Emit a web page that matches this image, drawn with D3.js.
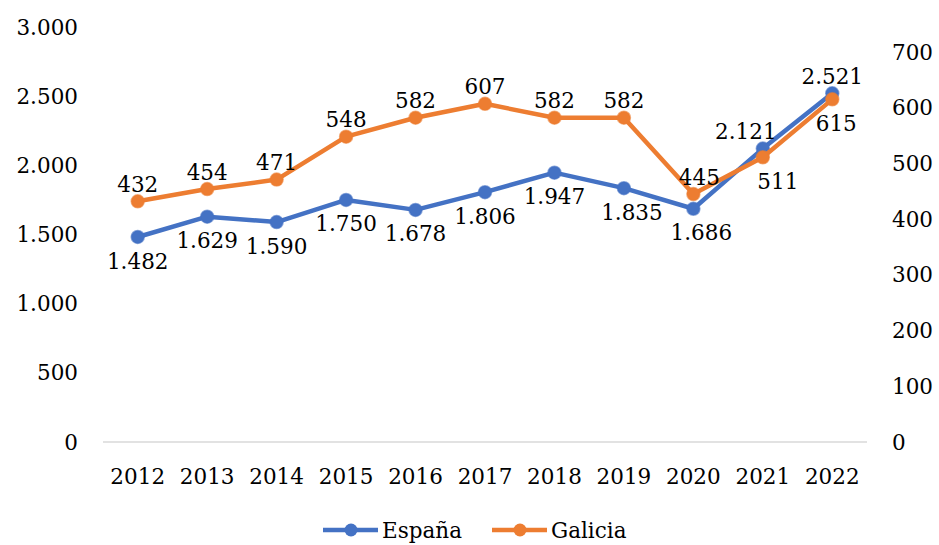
<!DOCTYPE html>
<html>
<head>
<meta charset="utf-8">
<script src="https://cdn.jsdelivr.net/npm/d3@7"></script>
<style>
  body { margin: 0; background: #fff; }
  svg text { font-family: "DejaVu Serif", "Liberation Serif", serif; fill: #000; }
</style>
</head>
<body>
<div id="chart"></div>
<script>
const years = ['2012', '2013', '2014', '2015', '2016', '2017', '2018', '2019', '2020', '2021', '2022'];
const espana = [1482, 1629, 1590, 1750, 1678, 1806, 1947, 1835, 1686, 2121, 2521];
const galicia = [432, 454, 471, 548, 582, 607, 582, 582, 445, 511, 615];
const leftTicks = [0, 500, 1000, 1500, 2000, 2500, 3000];
const rightTicks = [0, 100, 200, 300, 400, 500, 600, 700];

// label placement: 'a' above, 'b' below
const espanaPos = ['b', 'b', 'b', 'b', 'b', 'b', 'b', 'b', 'b', 'a', 'a'];
const galiciaPos = ['a', 'a', 'a', 'a', 'a', 'a', 'a', 'a', 'a', 'b', 'b'];

const width = 939, height = 545;
const plotL = 103, plotR = 867, plotT = 27, plotB = 442;
const fs = '21.5px';

const fmt = v => d3.format(',')(v).replace(/,/g, '.');

const svg = d3.select('#chart').append('svg')
  .attr('width', width)
  .attr('height', height);

const x = d3.scaleBand().domain(years).range([plotL, plotR]);
const yL = d3.scaleLinear().domain([0, 3000]).range([plotB, plotT]);
const yR = d3.scaleLinear().domain([0, 700]).range([plotB, 52]);

// baseline
svg.append('line')
  .attr('x1', plotL).attr('x2', plotR)
  .attr('y1', plotB).attr('y2', plotB)
  .attr('stroke', '#d9d9d9').attr('stroke-width', 1.5);

// left axis labels
svg.selectAll('.lt').data(leftTicks).enter().append('text')
  .attr('x', 78).attr('y', d => yL(d))
  .attr('dy', '0.35em')
  .attr('text-anchor', 'end')
  .attr('font-size', fs)
  .text(fmt);

// right axis labels
svg.selectAll('.rt').data(rightTicks).enter().append('text')
  .attr('x', 892).attr('y', d => yR(d))
  .attr('dy', '0.35em')
  .attr('font-size', fs)
  .text(fmt);

// x labels
svg.selectAll('.xt').data(years).enter().append('text')
  .attr('x', d => x(d) + x.bandwidth() / 2)
  .attr('y', 476)
  .attr('dy', '0.35em')
  .attr('text-anchor', 'middle')
  .attr('font-size', fs)
  .text(d => d);

const cx = d => x(d) + x.bandwidth() / 2;

function drawSeries(values, yScale, color, pos, dxs) {
  const pts = values.map((v, i) => ({ year: years[i], v, p: pos[i], dx: dxs[i] || 0 }));
  const line = d3.line().x(d => cx(d.year)).y(d => yScale(d.v));
  svg.append('path')
    .datum(pts)
    .attr('d', line)
    .attr('fill', 'none')
    .attr('stroke', color)
    .attr('stroke-width', 4.5)
    .attr('stroke-linejoin', 'round');
  svg.selectAll(null).data(pts).enter().append('circle')
    .attr('cx', d => cx(d.year))
    .attr('cy', d => yScale(d.v))
    .attr('r', 6.5)
    .attr('fill', color)
    .attr('stroke', color)
    .attr('stroke-opacity', 0.6)
    .attr('stroke-width', 1.5);
  svg.selectAll(null).data(pts).enter().append('text')
    .attr('x', d => cx(d.year) + d.dx)
    .attr('y', d => yScale(d.v) + (d.p === 'a' ? -17 : 24))
    .attr('dy', '0.35em')
    .attr('text-anchor', 'middle')
    .attr('font-size', fs)
    .text(d => fmt(d.v));
}

drawSeries(espana, yL, '#4472c4', espanaPos, [0, 0, 0, 0, 0, 0, 0, 8, 8, -17, 0]);
drawSeries(galicia, yR, '#ed7d31', galiciaPos, [0, 0, 0, 0, 0, 0, 0, 0, 6, 15, 4]);

// legend
const legend = [
  { name: 'España', color: '#4472c4', x: 323 },
  { name: 'Galicia', color: '#ed7d31', x: 492 }
];
legend.forEach(l => {
  svg.append('line')
    .attr('x1', l.x).attr('x2', l.x + 55)
    .attr('y1', 530).attr('y2', 530)
    .attr('stroke', l.color).attr('stroke-width', 4.5);
  svg.append('circle')
    .attr('cx', l.x + 28).attr('cy', 530).attr('r', 6.5)
    .attr('fill', l.color);
  svg.append('text')
    .attr('x', l.x + 59).attr('y', 530)
    .attr('dy', '0.35em')
    .attr('font-size', fs)
    .text(l.name);
});
</script>
</body>
</html>
